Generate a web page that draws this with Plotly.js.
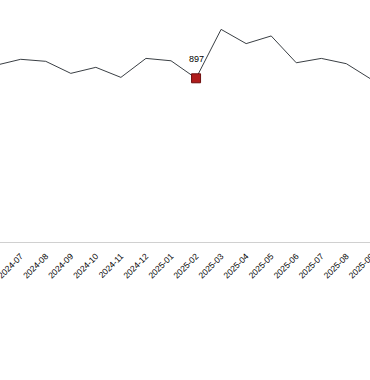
<!DOCTYPE html>
<html>
<head>
<meta charset="utf-8">
<script src="https://cdn.plot.ly/plotly-3.0.1.min.js"></script>
<style>
html,body{margin:0;padding:0;overflow:hidden;background:#fff;width:370px;height:380px;}
#chart{position:absolute;left:-50px;top:0;width:470px;height:380px;}
</style>
</head>
<body>
<div id="chart"></div>
<script>
const months = ["2024-06","2024-07","2024-08","2024-09","2024-10","2024-11","2024-12","2025-01","2025-02","2025-03","2025-04","2025-05","2025-06","2025-07","2025-08","2025-09"];
const values = [968,1001,990,924,957,902,1006,993,897,1165,1087,1129,982,1006,977,891];
const highlightMonth = ["2025-02"];
const highlightValue = [897];
const highlightLabel = ["897"];

const traces = [
  {
    x: months, y: values, type: "scatter", mode: "lines",
    line: {color: "#3a3f44", width: 1},
    hoverinfo: "skip"
  },
  {
    x: highlightMonth, y: highlightValue, type: "scatter", mode: "markers",
    marker: {symbol: "square", size: 9, color: "#b01c1c", line: {color: "#6e0f0f", width: 1}},
    cliponaxis: false
  }
];

const layout = {
  width: 470, height: 380,
  margin: {l: 0, r: 0, t: 0, b: 138},
  paper_bgcolor: "#fff", plot_bgcolor: "#fff",
  showlegend: false,
  annotations: [{
    x: highlightMonth[0], y: highlightValue[0], xref: "x", yref: "y",
    text: highlightLabel[0], showarrow: false, yshift: 19,
    font: {family: "Liberation Sans, Arial, sans-serif", size: 9, color: "#000"}
  }],
  xaxis: {
    type: "category",
    range: [-1.822, 16.94],
    showgrid: false, zeroline: false,
    showline: true, linecolor: "#d0d0d0", linewidth: 1,
    ticks: "", tickangle: -45, ticklabelstandoff: 5,
    tickfont: {family: "Liberation Sans, Arial, sans-serif", size: 8.5, color: "#000"}
  },
  yaxis: {
    range: [0, 1326],
    showgrid: false, zeroline: false, showline: false,
    showticklabels: false, ticks: ""
  }
};

Plotly.newPlot("chart", traces, layout, {displayModeBar: false, staticPlot: true});
</script>
</body>
</html>
